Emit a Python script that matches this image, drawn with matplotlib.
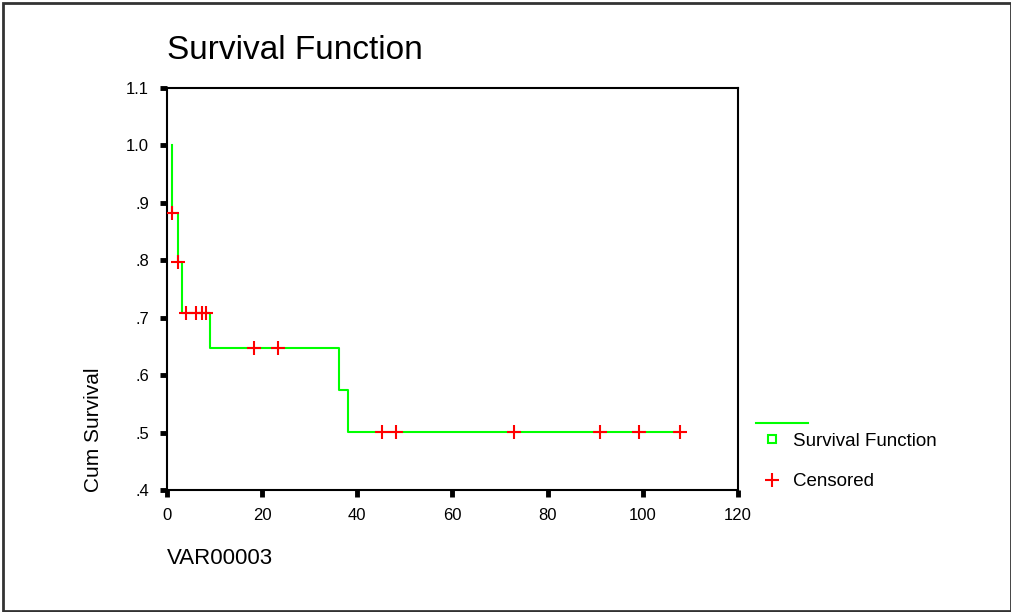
"""
Kaplan-Meier survival curve, SPSS style.
"""

import matplotlib
matplotlib.use("Agg")
import matplotlib.pyplot as plt
from matplotlib.lines import Line2D
from matplotlib.patches import Rectangle

plt.rcParams["font.family"] = ["Liberation Sans", "DejaVu Sans"]

# step curve (time, cumulative survival)
step_time = [1.0, 1.0, 2.3, 3.15, 9.0, 36.1, 38.0, 107.8]
step_surv = [1.0, 0.882, 0.796, 0.708, 0.647, 0.575, 0.502, 0.502]

# censored cases
cens_time = [1.0, 2.3, 3.9, 6.2, 7.4, 8.1, 18.3, 23.3, 45.1, 48.1, 73.0, 91.0, 99.1, 107.8]
cens_surv = [0.882, 0.796, 0.708, 0.708, 0.708, 0.708, 0.647, 0.647,
             0.502, 0.502, 0.502, 0.502, 0.502, 0.502]

y_ticks  = [0.4, 0.5, 0.6, 0.7, 0.8, 0.9, 1.0, 1.1]
y_labels = [".4", ".5", ".6", ".7", ".8", ".9", "1.0", "1.1"]
x_ticks  = [0, 20, 40, 60, 80, 100, 120]

GREEN = "#00ff00"
RED   = "#ff0000"

fig = plt.figure(figsize=(10.12, 6.12), dpi=100)
ax = fig.add_axes([0.165, 0.199, 0.5642, 0.658])

ax.step(step_time, step_surv, where="post", color=GREEN, lw=1.5, zorder=2)
ax.plot(cens_time, cens_surv, ls="none", marker="+", color=RED,
        markersize=10, markeredgewidth=1.5, zorder=3)

ax.set_xlim(0, 120)
ax.set_ylim(0.4, 1.1)
ax.set_xticks(x_ticks)
ax.set_yticks(y_ticks)
ax.set_yticklabels(y_labels)
ax.tick_params(direction="out", length=5, width=3.5, labelsize=12, pad=8)
for s in ax.spines.values():
    s.set_linewidth(1.5)

ax.set_ylabel("Cum Survival", fontsize=15)
ax.yaxis.set_label_coords(-0.112, 0.149)

fig.text(0.165, 0.918, "Survival Function", fontsize=24, va="center", ha="left")
fig.text(0.165, 1 - 558 / 612, "VAR00003", fontsize=16, va="center", ha="left")

# legend, drawn SPSS-style
fig.add_artist(Line2D([756 / 1012, 808 / 1012], [1 - 423 / 612] * 2,
                      color=GREEN, lw=1.5, transform=fig.transFigure))
fig.add_artist(Line2D([772 / 1012], [1 - 439 / 612], marker="s", ms=6,
                      mfc="white", mec=GREEN, mew=1.5, ls="none",
                      transform=fig.transFigure))
fig.add_artist(Line2D([772 / 1012], [1 - 480 / 612], marker="+", ms=10,
                      mew=1.5, color=RED, ls="none", transform=fig.transFigure))
fig.text(793 / 1012, 1 - 442 / 612, "Survival Function", fontsize=13.5, va="center")
fig.text(793 / 1012, 1 - 482 / 612, "Censored", fontsize=13.5, va="center")

# outer frame
fig.add_artist(Rectangle((3 / 1012, 1 / 612), 1008 / 1012, 608 / 612,
                         fill=False, ec="#333333", lw=2, transform=fig.transFigure))

fig.savefig("out.png", dpi=100, facecolor="white")
